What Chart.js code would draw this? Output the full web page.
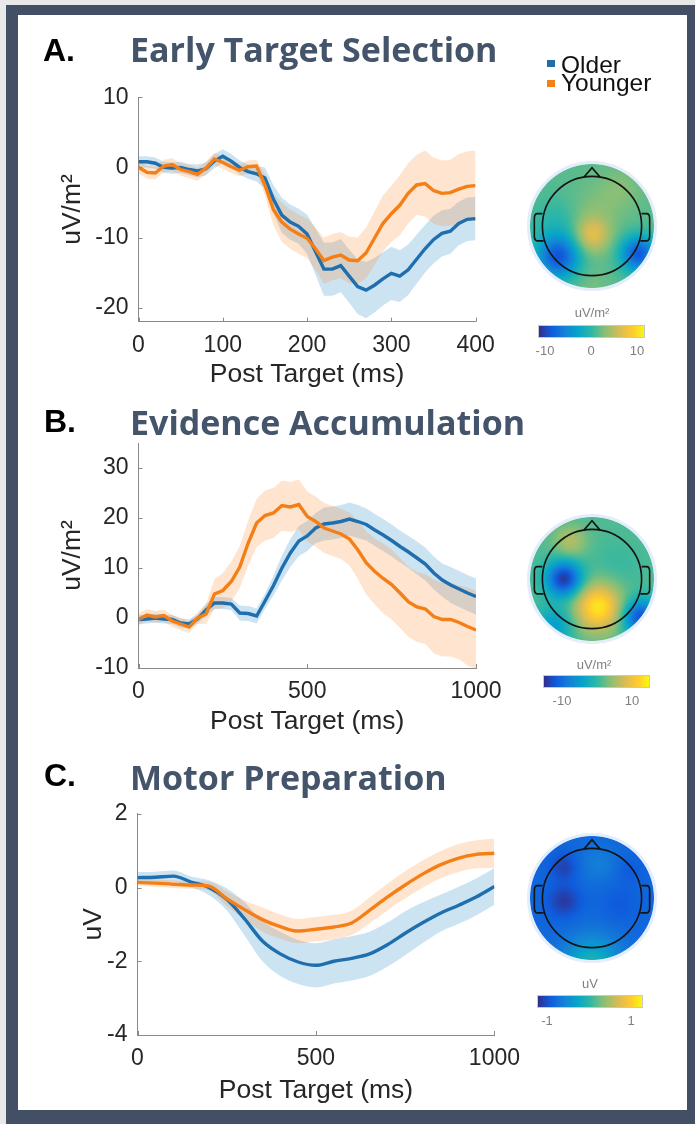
<!DOCTYPE html>
<html>
<head>
<meta charset="utf-8">
<script src="https://cdn.jsdelivr.net/npm/chart.js@4.4.1/dist/chart.umd.min.js"></script>
<style>
  html, body { margin: 0; padding: 0; background: #fff; }
  #page { position: relative; width: 695px; height: 1124px; overflow: hidden; background: #e8e8e9; }
  #frame { position: absolute; left: 6px; top: 5px; right: 0; bottom: 0; background: #434f64; }
  #inner { position: absolute; left: 18px; top: 15px; width: 669px; height: 1095px; background: #fff; }
  canvas { position: absolute; left: 0; }
  .t { position: absolute; white-space: nowrap; line-height: 1; }
  .letter { font: bold 32px "Liberation Sans", Arial, sans-serif; color: #000; }
  .title { font: bold 34px "Open Sans", sans-serif; color: #44546a; }
  .leg { font: 24.5px "Liberation Sans", Arial, sans-serif; color: #111; }
  .sw { position: absolute; width: 8px; height: 7px; }
  .cb { font: 13px "Liberation Sans", Arial, sans-serif; color: #808080; transform: translateX(-50%); }
</style>
</head>
<body>
<div id="page">
  <div id="frame"></div>
  <div id="inner"></div>
  <canvas id="deco" width="695" height="1124" style="top:0"></canvas>

  <div class="t letter" style="left:43px;top:32px">A.</div>
  <div class="t title" style="left:130px;top:26px">Early Target Selection</div>
  <div class="t letter" style="left:44px;top:403px">B.</div>
  <div class="t title" style="left:130px;top:399px">Evidence Accumulation</div>
  <div class="t letter" style="left:44px;top:757px">C.</div>
  <div class="t title" style="left:130px;top:754px">Motor Preparation</div>

  <div class="sw" style="left:547px;top:60px;background:#1f6fae"></div>
  <div class="t leg" style="left:561px;top:51px">Older</div>
  <div class="sw" style="left:547px;top:80px;background:#f57f17"></div>
  <div class="t leg" style="left:561px;top:69px">Younger</div>

  <div class="t cb" style="left:592px;top:305px">uV/m²</div>
  <div class="t cb" style="left:545px;top:343px">-10</div>
  <div class="t cb" style="left:591px;top:343px">0</div>
  <div class="t cb" style="left:637px;top:343px">10</div>

  <div class="t cb" style="left:594px;top:657px">uV/m²</div>
  <div class="t cb" style="left:562px;top:693px">-10</div>
  <div class="t cb" style="left:632px;top:693px">10</div>

  <div class="t cb" style="left:590px;top:976px">uV</div>
  <div class="t cb" style="left:547px;top:1013px">-1</div>
  <div class="t cb" style="left:631px;top:1013px">1</div>
</div>

<script>
// ---- panel A: early target selection (uV/m^2) ----
const timesA = [0,10,20,30,40,50,60,70,80,90,100,110,120,130,140,150,160,170,180,190,200,
  210,220,230,240,250,260,270,280,290,300,310,320,330,340,350,360,370,380,390,400];
const olderA = [0.8,0.8,0.6,0.0,-0.1,0.0,-0.3,-0.5,-0.2,0.9,1.6,0.9,0.0,-0.6,-0.9,-1.5,-4.5,-6.8,-7.8,-8.4,-9.5,
  -12.0,-14.5,-14.5,-14.0,-15.5,-17.0,-17.5,-16.8,-15.9,-15.1,-15.5,-14.6,-13.1,-11.6,-10.3,-9.4,-9.1,-8.0,-7.4,-7.3];
const olderLoA = [0.0,0.0,-0.2,-0.8,-0.9,-0.8,-1.1,-1.4,-1.1,-0.1,0.6,-0.1,-1.0,-1.6,-2.0,-3.0,-6.5,-9.3,-10.3,-10.9,-12.3,
  -15.3,-18.3,-18.3,-17.8,-19.3,-20.9,-21.5,-20.7,-19.7,-18.9,-19.2,-18.2,-16.6,-15.0,-13.7,-12.7,-12.3,-11.1,-10.5,-10.4];
const olderHiA = [1.6,1.6,1.4,0.8,0.7,0.8,0.5,0.4,0.7,1.9,2.6,1.9,1.0,0.4,0.2,0.0,-2.5,-4.3,-5.3,-5.9,-6.7,
  -8.7,-10.7,-10.7,-10.2,-11.7,-13.1,-13.5,-12.9,-12.1,-11.3,-11.8,-11.0,-9.6,-8.2,-6.9,-6.1,-5.9,-4.9,-4.3,-4.2];
const youngerA = [0.0,-0.7,-0.8,0.2,0.4,-0.3,-0.6,-1.0,-0.1,1.2,0.7,0.1,-0.4,0.1,0.2,-2.5,-6.0,-7.8,-8.8,-9.5,-10.1,
  -11.6,-13.3,-12.8,-12.5,-13.2,-13.3,-12.2,-10.1,-8.0,-6.6,-5.4,-3.7,-2.5,-2.3,-3.3,-3.7,-3.6,-3.1,-2.7,-2.6];
const youngerLoA = [-0.9,-1.6,-1.7,-0.7,-0.5,-1.2,-1.5,-1.9,-1.0,0.3,-0.2,-0.8,-1.3,-0.8,-0.7,-4.0,-8.2,-10.6,-11.6,-12.3,-12.9,
  -14.6,-16.6,-16.1,-15.8,-16.5,-16.6,-15.8,-13.9,-12.0,-10.6,-9.7,-8.0,-6.8,-7.0,-8.0,-8.4,-8.3,-8.1,-7.7,-7.6];
const youngerHiA = [0.9,0.2,0.1,1.1,1.3,0.6,0.3,-0.1,0.8,2.1,1.6,1.0,0.5,1.0,1.1,-1.0,-3.8,-5.0,-6.0,-6.7,-7.3,
  -8.6,-10.0,-9.5,-9.2,-9.9,-10.0,-8.6,-6.3,-4.0,-2.6,-1.1,0.6,1.8,2.4,1.4,1.0,1.1,1.9,2.3,2.4];

// ---- panel B: evidence accumulation (uV/m^2) ----
const timesB = [0,25,50,75,100,125,150,175,200,225,250,275,300,325,350,375,400,425,450,475,500,
  525,550,575,600,625,650,675,700,725,750,775,800,825,850,875,900,925,950,975,1000];
const olderB = [-0.3,-0.2,0.0,-0.2,-0.3,-1.0,-1.2,-0.2,1.6,3.0,3.0,2.8,1.0,0.9,0.4,3.4,6.5,10.0,13.0,15.4,16.4,
  18.0,18.8,19.0,19.3,19.8,19.3,18.7,17.6,16.6,15.5,14.3,13.2,12.0,10.8,9.0,7.6,6.6,5.8,5.0,4.3];
const olderLoB = [-1.2,-1.1,-0.9,-1.1,-1.2,-1.9,-2.1,-1.1,0.4,1.8,1.8,1.6,-0.5,-0.6,-1.1,1.9,4.5,7.5,10.2,12.4,13.4,
  15.0,15.5,15.7,16.0,16.5,16.0,15.5,14.4,13.4,12.3,11.1,10.0,8.7,7.5,5.7,4.3,3.0,2.2,1.4,0.7];
const olderHiB = [0.6,0.7,0.9,0.7,0.6,-0.1,-0.3,0.7,2.8,4.2,4.2,4.0,2.5,2.4,1.9,4.9,8.5,12.5,15.8,18.4,19.4,
  21.0,22.1,22.3,22.6,23.1,22.6,21.9,20.8,19.8,18.7,17.5,16.4,15.3,14.1,12.3,10.9,10.2,9.4,8.6,7.9];
const youngerB = [-0.3,0.6,0.2,0.5,-0.6,-1.2,-1.8,0.0,0.8,4.8,5.5,7.3,10.2,15.0,19.0,20.5,21.0,22.5,22.2,22.7,20.3,
  19.3,18.0,17.4,16.8,15.8,13.6,11.0,9.3,7.9,6.7,5.0,3.2,2.2,1.8,0.3,-0.3,-0.3,-0.9,-1.7,-2.4];
const youngerLoB = [-1.5,-0.6,-1.0,-0.7,-1.8,-2.4,-3.0,-1.2,-1.2,1.8,2.0,3.3,6.0,10.5,14.2,15.5,16.0,17.5,17.2,17.7,15.3,
  14.3,13.0,12.4,11.8,10.5,7.8,4.7,2.7,0.9,-0.3,-2.0,-3.8,-4.8,-5.2,-7.1,-7.7,-7.7,-8.3,-9.5,-10.2];
const youngerHiB = [0.9,1.8,1.4,1.7,0.6,0.0,-0.6,1.2,2.8,7.8,9.0,11.3,14.4,19.5,23.8,25.5,26.0,27.5,27.2,27.7,25.3,
  24.3,23.0,22.4,21.8,21.1,19.4,17.3,15.9,14.9,13.7,12.0,10.2,9.2,8.8,7.7,7.1,7.1,6.5,6.1,5.4];

// ---- panel C: motor preparation (uV) ----
const timesC = [0,50,100,150,200,250,300,350,400,450,500,550,600,650,700,750,800,850,900,950,1000];
const olderC = [0.27,0.28,0.31,0.15,0.0,-0.32,-0.85,-1.45,-1.8,-2.02,-2.11,-2.0,-1.92,-1.8,-1.55,-1.24,-0.95,-0.69,-0.48,-0.25,0.03];
const olderLoC = [0.12,0.13,0.16,0.0,-0.2,-0.62,-1.3,-2.0,-2.4,-2.62,-2.71,-2.6,-2.52,-2.4,-2.15,-1.84,-1.5,-1.19,-0.98,-0.75,-0.47];
const olderHiC = [0.42,0.43,0.46,0.3,0.2,-0.02,-0.4,-0.9,-1.2,-1.42,-1.51,-1.4,-1.32,-1.2,-0.95,-0.64,-0.4,-0.19,0.02,0.25,0.53];
const youngerC = [0.14,0.12,0.09,0.07,0.04,-0.3,-0.6,-0.87,-1.06,-1.18,-1.13,-1.07,-0.96,-0.62,-0.26,0.07,0.37,0.62,0.8,0.9,0.93];
const youngerLoC = [0.04,0.02,-0.01,-0.03,-0.08,-0.5,-0.85,-1.2,-1.39,-1.51,-1.46,-1.4,-1.29,-0.97,-0.62,-0.3,0.0,0.25,0.42,0.52,0.53];
const youngerHiC = [0.24,0.22,0.19,0.17,0.16,-0.1,-0.35,-0.54,-0.73,-0.85,-0.8,-0.74,-0.63,-0.27,0.1,0.44,0.74,0.99,1.18,1.28,1.33];

const BLUE = '#1f6fae';
const ORANGE = '#f57f17';
const BLUE_BAND = 'rgba(0,114,189,0.2)';
const ORANGE_BAND = 'rgba(255,127,14,0.2)';
const AXIS = '#8a8a8a';
const TEXT = '#262626';

Chart.defaults.font.family = '"Liberation Sans", Arial, sans-serif';

// MATLAB style ticks pointing into the plot
const inwardTicks = {
  id: 'inwardTicks',
  afterDraw(chart) {
    const { ctx, chartArea: a, scales: { x, y } } = chart;
    ctx.save();
    ctx.strokeStyle = AXIS;
    ctx.lineWidth = 1;
    ctx.beginPath();
    x.ticks.forEach(t => {
      const px = Math.round(x.getPixelForValue(t.value)) + 0.5;
      ctx.moveTo(px, a.bottom);
      ctx.lineTo(px, a.bottom - 4);
    });
    y.ticks.forEach(t => {
      const py = Math.round(y.getPixelForValue(t.value)) + 0.5;
      ctx.moveTo(a.left, py);
      ctx.lineTo(a.left + 4, py);
    });
    ctx.stroke();
    ctx.restore();
  }
};

const pts = (xs, ys) => xs.map((x, i) => ({ x: x, y: ys[i] }));

function makePanel(box, t, series, axes) {
  const canvas = document.createElement('canvas');
  canvas.width = 530;
  canvas.height = box.height;
  canvas.style.top = box.top + 'px';
  document.getElementById('page').appendChild(canvas);

  const line = { pointRadius: 0, borderWidth: 3.4, fill: false, tension: 0,
    cubicInterpolationMode: axes.smooth ? 'monotone' : 'default' };
  const edge = { pointRadius: 0, borderWidth: 0, borderColor: 'rgba(0,0,0,0)',
    cubicInterpolationMode: axes.smooth ? 'monotone' : 'default' };

  new Chart(canvas, {
    type: 'line',
    data: {
      datasets: [
        { ...line, label: 'Younger', data: pts(t, series.younger), borderColor: ORANGE, order: 0 },
        { ...line, label: 'Older', data: pts(t, series.older), borderColor: BLUE, order: 1 },
        { ...edge, data: pts(t, series.youngerHi), backgroundColor: ORANGE_BAND, fill: '+1', order: 2 },
        { ...edge, data: pts(t, series.youngerLo), fill: false, order: 2 },
        { ...edge, data: pts(t, series.olderHi), backgroundColor: BLUE_BAND, fill: '+1', order: 3 },
        { ...edge, data: pts(t, series.olderLo), fill: false, order: 3 },
      ],
    },
    options: {
      responsive: false,
      animation: false,
      layout: { padding: { left: 0, right: 530 - box.right, top: box.areaTop - box.top, bottom: 0 } },
      plugins: { legend: { display: false }, tooltip: { enabled: false } },
      scales: {
        x: {
          type: 'linear',
          min: 0,
          max: axes.xMax,
          afterFit: s => { s.height = box.top + box.height - box.areaBottom; },
          grid: { display: false, drawTicks: false },
          border: { display: true, color: AXIS, width: 1 },
          ticks: { stepSize: axes.xStep, padding: 10, color: TEXT, font: { size: 23 },
            maxRotation: 0, autoSkip: false, includeBounds: false, callback: v => String(v) },
          title: { display: true, text: 'Post Target (ms)', color: TEXT, font: { size: 26.5 }, padding: 0 },
        },
        y: {
          type: 'linear',
          min: axes.yMin,
          max: axes.yMax,
          afterFit: s => { s.width = box.left; },
          grid: { display: false, drawTicks: false },
          border: { display: true, color: AXIS, width: 1 },
          ticks: { stepSize: axes.yStep, padding: 10, color: TEXT, font: { size: 23 }, includeBounds: false,
            callback: v => String(v) },
          title: { display: true, text: axes.yTitle, color: TEXT, font: { size: 26.5 },
            padding: { top: axes.yTitlePad, bottom: 0 } },
        },
      },
    },
    plugins: [inwardTicks],
  });
}

makePanel({ top: 70, height: 321, left: 138.5, right: 475.6, areaTop: 97.3, areaBottom: 321.7 }, timesA,
  { older: olderA, olderLo: olderLoA, olderHi: olderHiA, younger: youngerA, youngerLo: youngerLoA, youngerHi: youngerHiA },
  { xMax: 400, xStep: 100, yMin: -22, yMax: 10, yStep: 10, yTitle: 'uV/m²', yTitlePad: 57 });

makePanel({ top: 415, height: 323, left: 138.5, right: 476, areaTop: 443, areaBottom: 668 }, timesB,
  { older: olderB, olderLo: olderLoB, olderHi: olderHiB, younger: youngerB, youngerLo: youngerLoB, youngerHi: youngerHiB },
  { xMax: 1000, xStep: 500, yMin: -10, yMax: 35, yStep: 10, yTitle: 'uV/m²', yTitlePad: 57 });

makePanel({ top: 790, height: 317, left: 137.5, right: 496.5, areaTop: 813, areaBottom: 1035 }, timesC,
  { older: olderC, olderLo: olderLoC, olderHi: olderHiC, younger: youngerC, youngerLo: youngerLoC, youngerHi: youngerHiC },
  { xMax: 1000, xStep: 500, yMin: -4, yMax: 2, yStep: 2, yTitle: 'uV', yTitlePad: 78, smooth: true });

// ---- scalp maps and colour bars (pictures, not data series) ----
const PARULA = [[53,42,135],[15,92,221],[20,129,214],[6,164,202],[46,183,164],
  [135,191,119],[209,187,89],[254,200,50],[249,251,14]];
function parula(v) {
  v = Math.max(0, Math.min(1, v));
  const p = v * 8, i = Math.min(7, Math.floor(p)), f = p - i;
  const a = PARULA[i], b = PARULA[i + 1];
  return a.map((c, k) => Math.round(c + (b[k] - c) * f));
}

// blobs: [u, v, amplitude, spread] in head radii
const mapA = { cx: 592, cy: 226, base: 0.56, blobs: [[0, 0.15, 0.22, 0.2], [0, -0.2, 0.06, 0.3], [-0.55, 0.5, -0.44, 0.24],
  [0.75, 0.45, -0.44, 0.2], [0.45, -0.6, 0.06, 0.25], [-0.55, -0.05, -0.08, 0.3], [0, 0.95, 0.04, 0.2]] };
const mapB = { cx: 592, cy: 579, base: 0.55, blobs: [[-0.45, 0.0, -0.52, 0.2], [0.1, 0.45, 0.4, 0.27], [-0.35, -0.6, 0.15, 0.18],
  [0.78, 0.62, -0.45, 0.2], [-0.6, 0.75, -0.2, 0.22], [0.4, -0.2, -0.04, 0.3]] };
const mapC = { cx: 592, cy: 898, base: 0.16, blobs: [[-0.45, 0.05, -0.12, 0.18], [-0.45, -0.5, -0.1, 0.15], [0.1, -0.55, 0.08, 0.22],
  [0, 1.1, 0.3, 0.33], [0.45, 0.1, -0.04, 0.2], [0.6, -0.45, -0.04, 0.15]] };

function topo(ctx, m, R) {
  const x0 = Math.floor(m.cx - R - 3), y0 = Math.floor(m.cy - R - 3), S = Math.ceil(2 * R + 6);
  const img = ctx.createImageData(S, S);
  for (let j = 0; j < S; j++) {
    for (let i = 0; i < S; i++) {
      const u = (x0 + i + 0.5 - m.cx) / R, v = (y0 + j + 0.5 - m.cy) / R;
      const d = Math.hypot(u, v);
      const alpha = Math.max(0, Math.min(1, (1 - d) * R + 0.5));
      if (alpha <= 0) continue;
      let val = m.base;
      m.blobs.forEach(b => {
        const du = u - b[0], dv = v - b[1];
        val += b[2] * Math.exp(-(du * du + dv * dv) / (2 * b[3] * b[3]));
      });
      const c = parula(val);
      const k = (j * S + i) * 4;
      img.data[k] = c[0];
      img.data[k + 1] = c[1];
      img.data[k + 2] = c[2];
      img.data[k + 3] = Math.round(alpha * 255);
    }
  }
  ctx.putImageData(img, x0, y0);

  ctx.save();
  ctx.strokeStyle = 'rgba(205,222,248,0.55)';
  ctx.lineWidth = 3;
  ctx.beginPath(); ctx.arc(m.cx, m.cy, R + 1.5, 0, Math.PI * 2); ctx.stroke();

  const hr = R * 0.8;
  ctx.strokeStyle = '#141414';
  ctx.lineWidth = 1.6;
  ctx.beginPath(); ctx.arc(m.cx, m.cy, hr, 0, Math.PI * 2); ctx.stroke();
  ctx.beginPath();
  ctx.moveTo(m.cx - 0.13 * R, m.cy - hr * 0.985);
  ctx.lineTo(m.cx, m.cy - hr - 0.14 * R);
  ctx.lineTo(m.cx + 0.13 * R, m.cy - hr * 0.985);
  ctx.stroke();
  [-1, 1].forEach(sgn => {
    const ex = m.cx + sgn * hr;
    ctx.beginPath();
    ctx.moveTo(ex, m.cy - 0.2 * R);
    ctx.lineTo(ex + sgn * 0.08 * R, m.cy - 0.2 * R);
    ctx.quadraticCurveTo(ex + sgn * 0.13 * R, m.cy - 0.2 * R, ex + sgn * 0.13 * R, m.cy - 0.12 * R);
    ctx.lineTo(ex + sgn * 0.13 * R, m.cy + 0.16 * R);
    ctx.quadraticCurveTo(ex + sgn * 0.13 * R, m.cy + 0.24 * R, ex + sgn * 0.07 * R, m.cy + 0.24 * R);
    ctx.lineTo(ex - sgn * 0.02 * R, m.cy + 0.24 * R);
    ctx.stroke();
  });
  ctx.restore();
}

function colorbar(ctx, x, y, w, h) {
  const g = ctx.createLinearGradient(x, 0, x + w, 0);
  PARULA.forEach((c, i) => g.addColorStop(i / 8, `rgb(${c[0]},${c[1]},${c[2]})`));
  ctx.fillStyle = g;
  ctx.fillRect(x, y, w, h);
  ctx.strokeStyle = '#c8c8c8';
  ctx.lineWidth = 1;
  ctx.strokeRect(x + 0.5, y + 0.5, w - 1, h - 1);
}

const deco = document.getElementById('deco').getContext('2d');
topo(deco, mapA, 62);
topo(deco, mapB, 62);
topo(deco, mapC, 62);
colorbar(deco, 538, 325, 107, 13);
colorbar(deco, 543, 675, 107, 13);
colorbar(deco, 537, 995, 106, 13);
</script>
</body>
</html>
